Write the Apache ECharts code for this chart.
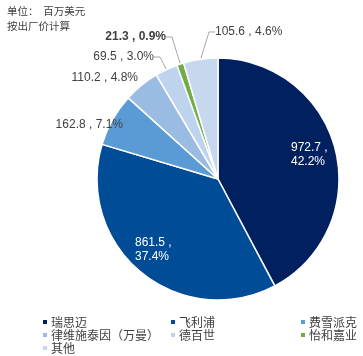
<!DOCTYPE html>
<html><head><meta charset="utf-8">
<script src="https://cdn.jsdelivr.net/npm/echarts@6/dist/echarts.min.js"></script>
<style>html,body{margin:0;padding:0;background:#fff}#c{width:363px;height:356px}</style>
</head><body><div id="c"></div>
<script>
const categories = ['瑞思迈','飞利浦','费雪派克','律维施泰因（万曼）','德百世','怡和嘉业','其他'];
const values = [972.7, 861.5, 162.8, 110.2, 69.5, 21.3, 105.6];
const percents = ['42.2%','37.4%','7.1%','4.8%','3.0%','0.9%','4.6%'];
const colors = ['#002060','#004C97','#5B9BD5','#9ABCE2','#BED3EE','#70AD47','#C6D7EE'];

const labelPos = [
  {x:291, y:155, align:'left'},
  {x:135, y:250, align:'left'},
  {x:123, y:125, align:'right'},
  {x:138, y:78, align:'right'},
  {x:154, y:57, align:'right'},
  {x:166, y:37, align:'right'},
  {x:215, y:32, align:'left'}
];

const chart = echarts.init(document.getElementById('c'));
const font = '"Liberation Sans", Arial, "Noto Sans CJK SC", sans-serif';
const data = categories.map((name, i) => {
  const inside = i < 2;
  return {
    name, value: values[i],
    itemStyle: {color: colors[i]},
    label: {
      position: inside ? 'inside' : 'outside',
      color: inside ? '#fff' : '#404040',
      fontWeight: i === 5 ? 'bold' : 'normal',
      formatter: inside ? (values[i].toFixed(1) + ' ,\n' + percents[i]) : (values[i].toFixed(1) + ' , ' + percents[i])
    },
    labelLine: {show: i >= 4}
  };
});

const cols = [[0,3,6],[1,4],[2,5]];
const legendX = [36, 164, 294];
chart.setOption({
  animation: false,
  graphic: [
    {type:'text', left:7, top:6, style:{text:'单位：  百万美元', font:'10.5px "Noto Sans CJK SC", sans-serif', fill:'#404040'}},
    {type:'text', left:7, top:21, style:{text:'按出厂价计算', font:'10.5px "Noto Sans CJK SC", sans-serif', fill:'#404040'}}
  ],
  legend: cols.map((c, k) => ({
    orient: 'vertical', left: legendX[k], top: 311, height: 60,
    itemWidth: 6, itemHeight: 6, itemGap: 1, icon: 'rect',
    textStyle: {fontSize: 12, color: '#404040', fontFamily: '"Noto Sans CJK SC", sans-serif', padding:[0,0,0,-2]},
    data: c.map(i => categories[i])
  })),
  series: [{
    type: 'pie',
    center: [218, 179],
    radius: [0, 121],
    startAngle: 90,
    clockwise: true,
    data,
    itemStyle: {borderColor: '#fff', borderWidth: 1.5},
    label: {fontSize: 12, fontFamily: font, lineHeight: 14},
    labelLine: {length: 8, length2: 6, lineStyle: {color: '#A6A6A6', width: 1}},
    labelLayout: function (p) {
      const lp = labelPos[p.dataIndex];
      return {x: lp.x, y: lp.y, align: lp.align, verticalAlign: 'middle'};
    }
  }]
});
</script></body></html>
